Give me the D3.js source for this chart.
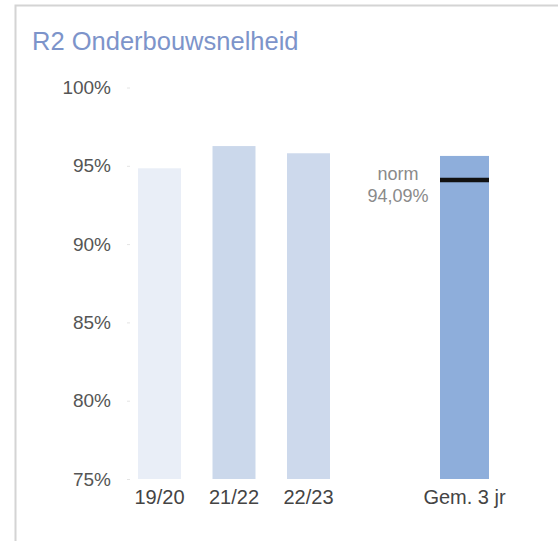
<!DOCTYPE html>
<html>
<head>
<meta charset="utf-8">
<script src="https://cdn.jsdelivr.net/npm/d3@7"></script>
<style>
  html, body { margin: 0; padding: 0; background: #fff; }
  svg { display: block; font-family: "Liberation Sans", Arial, sans-serif; }
</style>
</head>
<body>
<svg id="chart" width="558" height="541"></svg>
<script>
// ---- data ----
const title = "R2 Onderbouwsnelheid";
const seasons = ["19/20", "21/22", "22/23"];
const seasonValues = [94.84, 96.26, 95.80];
const seasonColors = ["#e9eef7", "#cbd8eb", "#cdd9ec"];
const avgLabel = "Gem. 3 jr";
const avgValue = 95.63;
const avgColor = "#8eaedb";
const normValue = 94.09;
const normLabel = ["norm", "94,09%"];
const yTicks = [75, 80, 85, 90, 95, 100];

// ---- layout ----
const svg = d3.select("#chart");
const W = 558, H = 541;

// panel border (open to right and bottom)
svg.append("rect")
  .attr("x", 15.5).attr("y", 5.5)
  .attr("width", 700).attr("height", 700)
  .attr("fill", "none").attr("stroke", "#d4d4d4").attr("stroke-width", 2);

svg.append("text")
  .attr("x", 32).attr("y", 50)
  .attr("fill", "#7d94ca")
  .attr("font-size", 25.5)
  .text(title);

const y = d3.scaleLinear().domain([75, 100]).range([479, 87.5]);

const x = d3.scaleBand().domain(seasons)
  .range([122.25, 345.75]).paddingInner(0.423).paddingOuter(0.2115);
const xAvg = d3.scaleBand().domain([avgLabel]).range([440, 489]).padding(0);

// y axis
const yAxis = d3.axisLeft(y).tickValues(yTicks)
  .tickFormat(d => d + "%").tickSize(3).tickPadding(16);
const gy = svg.append("g").attr("transform", "translate(130,0)").call(yAxis);
gy.select(".domain").remove();
gy.selectAll(".tick line").attr("stroke", "#e4e4e4");
gy.selectAll(".tick text")
  .attr("fill", "#555").attr("font-size", 19)
  .attr("font-family", "Liberation Sans, Arial, sans-serif");

// season bars
svg.append("g").selectAll("rect")
  .data(seasons.map((s, i) => ({ s, v: seasonValues[i], c: seasonColors[i] })))
  .join("rect")
  .attr("x", d => x(d.s))
  .attr("width", x.bandwidth())
  .attr("y", d => y(d.v))
  .attr("height", d => y(75) - y(d.v))
  .attr("fill", d => d.c);

// average bar
svg.append("rect")
  .attr("x", xAvg(avgLabel))
  .attr("width", xAvg.bandwidth())
  .attr("y", y(avgValue))
  .attr("height", y(75) - y(avgValue))
  .attr("fill", avgColor);

// norm line
svg.append("line")
  .attr("x1", xAvg(avgLabel)).attr("x2", xAvg(avgLabel) + xAvg.bandwidth())
  .attr("y1", y(normValue)).attr("y2", y(normValue))
  .attr("stroke", "#111").attr("stroke-width", 4.5);

// norm label
const nx = xAvg(avgLabel) - 42;
svg.append("text").attr("x", nx).attr("y", y(normValue))
  .attr("text-anchor", "middle").attr("font-size", 18).attr("fill", "#8a8a8a")
  .text(normLabel[0]);
svg.append("text").attr("x", nx).attr("y", y(normValue) + 21.5)
  .attr("text-anchor", "middle").attr("font-size", 18).attr("fill", "#8a8a8a")
  .text(normLabel[1]);

// x labels
const gx = svg.append("g").attr("transform", "translate(0,479)");
const xAxis = d3.axisBottom(x).tickSize(0).tickPadding(0);
gx.call(xAxis);
const gx2 = svg.append("g").attr("transform", "translate(0,479)").call(d3.axisBottom(xAvg).tickSize(0).tickPadding(0));
[gx, gx2].forEach(g => {
  g.select(".domain").remove();
  g.selectAll(".tick text")
    .attr("dy", null).attr("y", 25)
    .attr("fill", "#444").attr("font-size", 20)
    .attr("font-family", "Liberation Sans, Arial, sans-serif");
});
</script>
</body>
</html>
